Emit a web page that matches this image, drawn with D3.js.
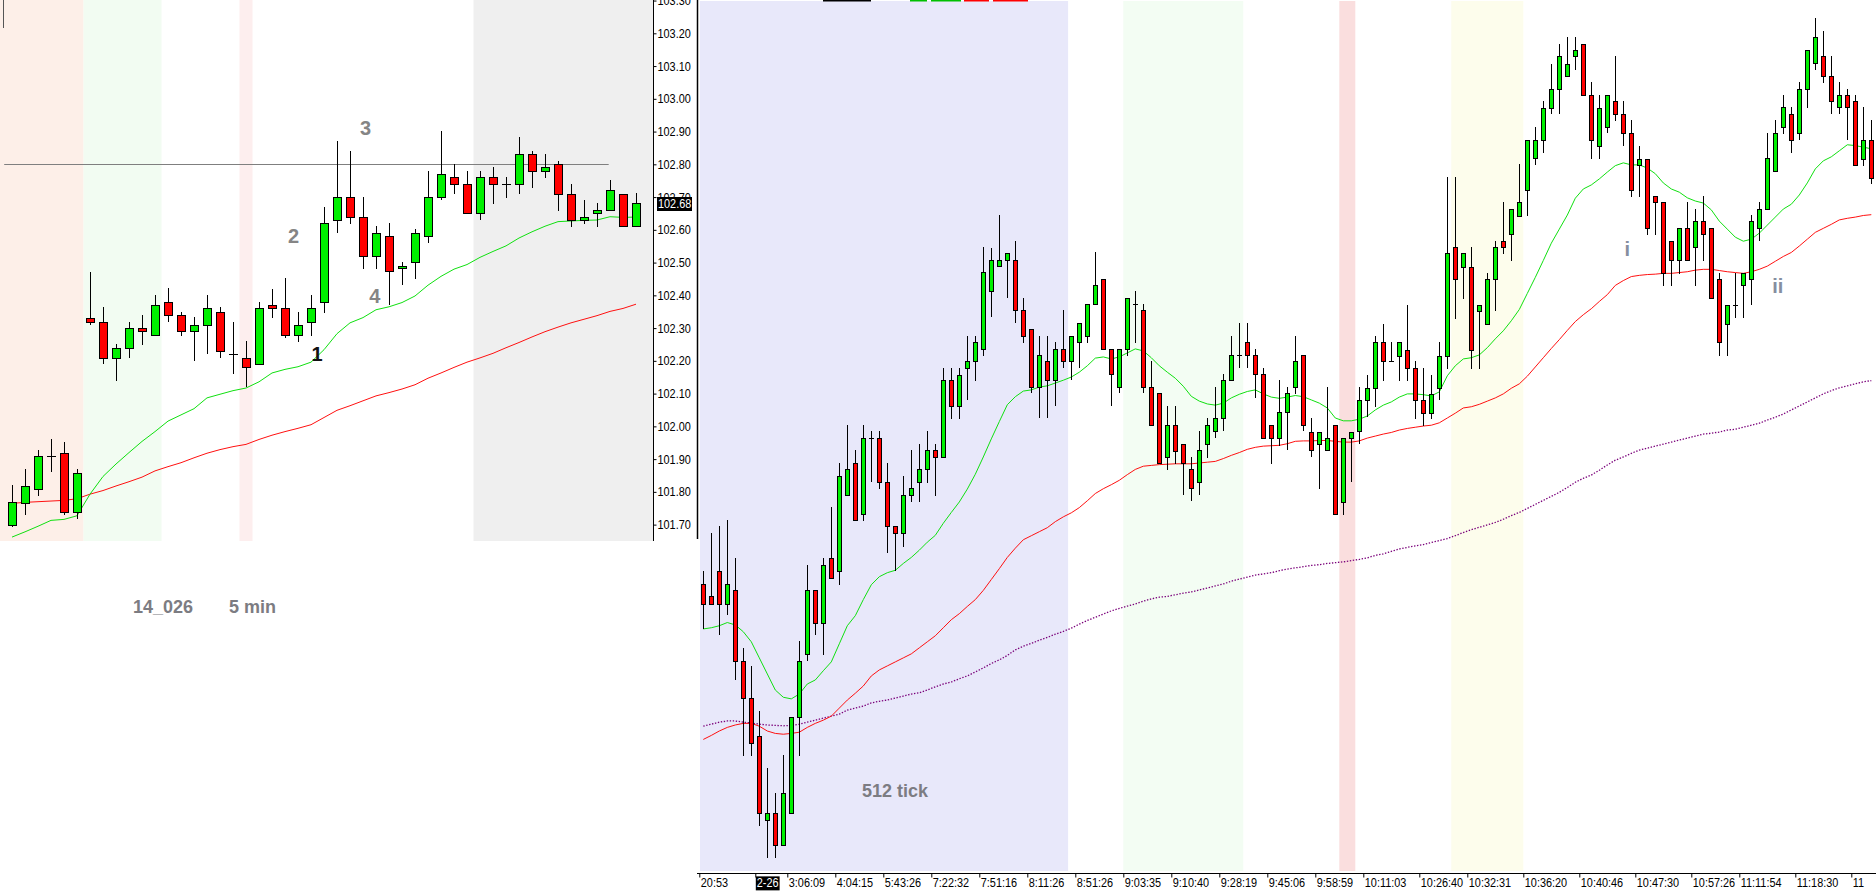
<!DOCTYPE html>
<html>
<head>
<meta charset="utf-8">
<script src="https://cdn.jsdelivr.net/npm/d3@7"></script>
<style>
  html, body { margin: 0; padding: 0; background: #fff; overflow: hidden; }
  svg { display: block; font-family: "Liberation Sans", Arial, sans-serif; }
</style>
</head>
<body>
<div id="container"></div>
<script>
// ---------- left chart: 5 min bars ----------
var leftOpen  = [101.700,101.765,101.809,101.909,101.918,101.738,102.331,102.318,102.209,102.240,
                 102.301,102.278,102.379,102.340,102.291,102.310,102.349,102.221,102.209,102.191,
                 102.371,102.362,102.278,102.318,102.379,102.629,102.701,102.640,102.520,102.581,
                 102.484,102.502,102.581,102.701,102.761,102.741,102.651,102.761,102.741,102.741,
                 102.832,102.780,102.802,102.709,102.629,102.651,102.660,102.709,102.611];
var leftHigh  = [101.820,101.871,101.929,101.960,101.951,101.871,102.472,102.363,102.250,102.318,
                 102.341,102.402,102.422,102.349,102.333,102.402,102.363,102.318,102.262,102.379,
                 102.420,102.452,102.349,102.402,102.671,102.872,102.842,102.701,102.613,102.621,
                 102.502,102.602,102.780,102.902,102.802,102.780,102.780,102.793,102.761,102.883,
                 102.842,102.832,102.811,102.741,102.692,102.683,102.752,102.709,102.712];
var leftLow   = [101.695,101.733,101.789,101.864,101.733,101.720,102.311,102.193,102.142,102.213,
                 102.250,102.278,102.322,102.280,102.202,102.224,102.213,102.163,102.122,102.191,
                 102.333,102.272,102.262,102.280,102.349,102.593,102.621,102.484,102.484,102.374,
                 102.434,102.452,102.562,102.695,102.711,102.651,102.633,102.683,102.701,102.711,
                 102.732,102.761,102.662,102.613,102.621,102.613,102.660,102.611,102.611];
var leftClose = [101.768,101.818,101.909,101.909,101.738,101.857,102.318,102.209,102.240,102.301,
                 102.291,102.371,102.340,102.291,102.310,102.362,102.229,102.221,102.180,102.362,
                 102.362,102.278,102.310,102.362,102.621,102.701,102.640,102.520,102.591,102.473,
                 102.491,102.591,102.701,102.771,102.741,102.651,102.761,102.741,102.741,102.832,
                 102.780,102.793,102.709,102.629,102.640,102.662,102.722,102.611,102.682];
var leftMaFast = [101.662,101.678,101.695,101.713,101.716,101.727,101.793,101.847,101.885,101.920,
                  101.954,101.984,102.016,102.035,102.054,102.087,102.098,102.109,102.117,102.136,
                  102.163,102.174,102.182,102.196,102.234,102.283,102.316,102.332,102.356,102.365,
                  102.378,102.398,102.431,102.458,102.480,102.494,102.516,102.534,102.551,102.575,
                  102.594,102.611,102.625,102.627,102.629,102.630,102.640,102.638,102.639];
var leftMaSlow = [101.765,101.768,101.770,101.772,101.774,101.779,101.793,101.804,101.818,101.831,
                  101.845,101.864,101.877,101.889,101.904,101.918,101.929,101.938,101.945,101.960,
                  101.973,101.984,101.994,102.005,102.027,102.049,102.063,102.078,102.093,102.103,
                  102.114,102.127,102.147,102.163,102.180,102.196,102.209,102.223,102.240,102.256,
                  102.273,102.289,102.303,102.316,102.327,102.338,102.351,102.360,102.373];
var leftPriceTicks = [101.70,101.80,101.90,102.00,102.10,102.20,102.30,102.40,102.50,
                      102.60,102.70,102.80,102.90,103.00,103.10,103.20,103.30];
var leftLastPrice = 102.68;
var leftLevel = 102.80;
var leftLevelFrom = -0.6, leftLevelTo = 45.9;
var leftBandFrom = [-1, 5.5, 17.5, 35.5];
var leftBandTo   = [5.5, 11.5, 18.5, 49.5];
var leftWaveText  = ["1", "2", "3", "4"];
var leftWaveBar   = [23.46, 21.65, 27.2, 27.9];
var leftWavePrice = [102.222, 102.583, 102.911, 102.398];

// ---------- right chart: 512 tick bars ----------
var rightOpen = [101.643,101.613,101.675,101.595,101.628,101.453,101.360,101.265,101.057,101.075,
  100.995,101.075,101.312,101.470,101.628,101.548,101.708,101.675,101.865,101.945,
  101.817,102.007,102.007,101.897,101.788,101.770,101.865,101.897,101.930,101.978,
  101.960,102.152,102.087,102.182,102.198,102.228,102.374,102.436,102.451,102.451,
  102.326,102.279,102.134,102.199,102.151,102.229,102.199,102.246,102.261,102.341,
  102.403,102.229,102.134,102.229,102.341,102.326,102.134,102.119,101.959,102.039,
  101.992,101.929,101.897,101.992,102.024,102.057,102.151,102.214,102.246,102.214,
  102.166,102.039,102.007,102.071,102.134,102.214,102.022,101.992,101.977,102.039,
  101.849,102.007,102.024,102.102,102.132,102.245,102.199,102.212,102.227,102.182,
  102.102,102.070,102.132,102.212,102.482,102.434,102.434,102.324,102.292,102.402,
  102.497,102.514,102.560,102.624,102.704,102.750,102.829,102.877,102.909,102.957,
  102.987,102.862,102.735,102.782,102.845,102.814,102.767,102.687,102.702,102.609,
  102.594,102.497,102.449,102.529,102.482,102.547,102.529,102.402,102.292,102.339,
  102.387,102.402,102.529,102.577,102.672,102.782,102.814,102.767,102.877,102.940,
  102.957,102.909,102.830,102.862,102.845,102.702,102.750];
var rightHigh = [101.675,101.770,101.788,101.803,101.708,101.485,101.440,101.328,101.185,101.123,
  101.218,101.312,101.502,101.690,101.628,101.708,101.835,101.945,102.040,101.978,
  102.040,102.025,102.025,101.945,101.788,101.912,101.978,101.992,102.025,101.992,
  102.182,102.182,102.182,102.262,102.262,102.482,102.481,102.562,102.467,102.497,
  102.356,102.279,102.262,102.262,102.247,102.326,102.261,102.293,102.341,102.469,
  102.403,102.229,102.229,102.356,102.373,102.341,102.199,102.119,102.087,102.087,
  101.992,101.959,102.024,102.057,102.134,102.166,102.261,102.293,102.293,102.229,
  102.182,102.039,102.151,102.134,102.261,102.214,102.057,102.022,102.134,102.039,
  102.007,102.022,102.134,102.165,102.260,102.292,102.245,102.245,102.339,102.199,
  102.182,102.165,102.245,102.657,102.657,102.467,102.482,102.339,102.419,102.497,
  102.594,102.577,102.689,102.750,102.782,102.845,102.939,102.987,103.004,103.004,
  102.987,102.892,102.862,102.862,102.957,102.845,102.799,102.735,102.702,102.609,
  102.594,102.497,102.529,102.594,102.577,102.609,102.529,102.419,102.339,102.419,
  102.419,102.562,102.594,102.767,102.799,102.862,102.830,102.892,102.972,103.052,
  103.020,102.957,102.892,102.877,102.862,102.830,102.799];
var rightLow = [101.535,101.595,101.520,101.568,101.408,101.218,101.218,101.045,100.965,100.965,
  100.995,101.075,101.218,101.455,101.520,101.470,101.660,101.645,101.865,101.803,
  101.803,101.900,101.883,101.723,101.678,101.738,101.850,101.850,101.897,101.865,
  101.960,102.057,102.057,102.105,102.152,102.215,102.311,102.436,102.359,102.296,
  102.247,102.121,102.059,102.059,102.089,102.184,102.154,102.184,102.247,102.341,
  102.229,102.089,102.121,102.214,102.247,102.121,102.039,101.944,101.931,101.944,
  101.867,101.852,101.867,101.961,102.009,102.026,102.151,102.184,102.184,102.109,
  102.007,101.946,101.991,101.979,102.119,102.026,101.962,101.884,101.977,101.817,
  101.819,101.899,101.994,102.062,102.087,102.152,102.199,102.152,102.152,102.057,
  102.039,102.057,102.105,102.182,102.307,102.355,102.182,102.182,102.292,102.325,
  102.467,102.449,102.560,102.562,102.689,102.719,102.817,102.817,102.909,102.925,
  102.862,102.705,102.705,102.769,102.799,102.737,102.609,102.609,102.515,102.515,
  102.387,102.387,102.419,102.449,102.387,102.449,102.355,102.215,102.215,102.309,
  102.309,102.340,102.499,102.577,102.672,102.767,102.719,102.752,102.832,102.925,
  102.892,102.817,102.817,102.752,102.687,102.687,102.642];
var rightClose = [101.595,101.595,101.595,101.643,101.453,101.360,101.248,101.075,101.075,100.995,
  101.123,101.312,101.453,101.628,101.548,101.690,101.660,101.912,101.930,101.803,
  102.007,102.007,101.897,101.788,101.770,101.865,101.883,101.930,101.978,101.960,
  102.152,102.087,102.165,102.198,102.245,102.420,102.451,102.451,102.467,102.326,
  102.262,102.134,102.214,102.151,102.229,102.199,102.261,102.293,102.341,102.389,
  102.229,102.166,102.229,102.356,102.341,102.134,102.039,101.944,102.039,101.974,
  101.944,101.884,101.977,102.039,102.057,102.151,102.214,102.214,102.214,102.166,
  102.007,102.007,102.071,102.119,102.199,102.039,101.977,102.022,102.007,101.817,
  102.007,102.022,102.102,102.132,102.245,102.199,102.199,102.245,102.182,102.102,
  102.070,102.117,102.212,102.467,102.402,102.467,102.227,102.339,102.402,102.482,
  102.482,102.577,102.594,102.750,102.750,102.829,102.877,102.957,102.939,102.972,
  102.862,102.750,102.829,102.862,102.814,102.767,102.624,102.702,102.529,102.594,
  102.419,102.449,102.529,102.449,102.547,102.514,102.355,102.245,102.339,102.339,
  102.419,102.547,102.577,102.704,102.767,102.830,102.750,102.877,102.972,103.004,
  102.909,102.845,102.862,102.830,102.687,102.750,102.655];
var rightMaFast = [101.532,101.535,101.540,101.548,101.542,101.525,101.500,101.460,101.420,101.380,
  101.362,101.358,101.370,101.395,101.405,101.428,101.450,101.495,101.540,101.565,
  101.605,101.642,101.662,101.672,101.678,101.695,101.710,101.728,101.748,101.765,
  101.795,101.822,101.848,101.880,101.917,101.960,102.005,102.048,102.090,102.110,
  102.124,102.127,102.134,102.137,102.144,102.151,102.159,102.171,102.187,102.206,
  102.209,102.204,102.209,102.219,102.229,102.224,102.207,102.187,102.171,102.156,
  102.136,102.111,102.099,102.092,102.089,102.094,102.107,102.116,102.123,102.127,
  102.117,102.109,102.106,102.109,102.113,102.110,102.102,102.094,102.082,102.057,
  102.050,102.050,102.054,102.062,102.077,102.089,102.097,102.109,102.117,102.117,
  102.115,102.112,102.122,102.162,102.187,102.204,102.207,102.214,102.232,102.254,
  102.274,102.299,102.327,102.367,102.407,102.449,102.492,102.527,102.562,102.604,
  102.627,102.637,102.652,102.669,102.685,102.692,102.687,102.687,102.679,102.665,
  102.642,102.627,102.619,102.605,102.597,102.592,102.575,102.547,102.527,102.507,
  102.497,102.502,102.517,102.537,102.557,102.577,102.589,102.612,102.642,102.677,
  102.697,102.707,102.722,102.737,102.735,102.731,102.727];
var rightMaMid = [101.257,101.267,101.278,101.287,101.293,101.297,101.297,101.290,101.278,101.272,
  101.270,101.272,101.275,101.287,101.297,101.305,101.315,101.335,101.355,101.372,
  101.390,101.415,101.430,101.440,101.450,101.460,101.470,101.485,101.500,101.515,
  101.535,101.555,101.570,101.588,101.605,101.628,101.655,101.682,101.710,101.733,
  101.754,101.764,101.774,101.784,101.799,101.811,101.821,101.834,101.851,101.869,
  101.881,101.891,101.902,101.916,101.929,101.937,101.939,101.941,101.942,101.943,
  101.943,101.943,101.945,101.947,101.949,101.956,101.964,101.971,101.979,101.984,
  101.987,101.988,101.989,101.993,101.999,102.000,102.000,102.001,102.001,101.999,
  101.997,101.997,102.000,102.007,102.012,102.017,102.021,102.027,102.031,102.034,
  102.037,102.039,102.045,102.057,102.069,102.082,102.085,102.091,102.099,102.107,
  102.117,102.131,102.142,102.161,102.184,102.207,102.230,102.252,102.275,102.297,
  102.314,102.329,102.347,102.364,102.387,102.399,102.409,102.412,102.414,102.415,
  102.417,102.417,102.419,102.421,102.425,102.427,102.427,102.424,102.421,102.419,
  102.417,102.421,102.427,102.435,102.447,102.459,102.469,102.485,102.502,102.519,
  102.529,102.539,102.550,102.554,102.557,102.561,102.563];
var rightMaSlow = [101.290,101.295,101.300,101.303,101.303,101.300,101.298,101.295,101.293,101.292,
  101.291,101.292,101.295,101.300,101.305,101.310,101.315,101.320,101.330,101.335,
  101.340,101.348,101.352,101.355,101.360,101.365,101.370,101.373,101.380,101.388,
  101.395,101.400,101.408,101.415,101.425,101.435,101.446,101.455,101.466,101.480,
  101.489,101.496,101.504,101.511,101.519,101.526,101.534,101.544,101.553,101.561,
  101.569,101.577,101.583,101.589,101.594,101.601,101.607,101.611,101.613,101.617,
  101.621,101.624,101.629,101.634,101.639,101.644,101.651,101.656,101.661,101.666,
  101.669,101.672,101.677,101.681,101.684,101.687,101.690,101.692,101.695,101.697,
  101.699,101.702,101.705,101.709,101.715,101.719,101.725,101.731,101.735,101.739,
  101.742,101.747,101.752,101.757,101.764,101.772,101.779,101.785,101.791,101.797,
  101.805,101.814,101.822,101.832,101.842,101.852,101.862,101.872,101.884,101.897,
  101.907,101.915,101.927,101.940,101.952,101.960,101.969,101.977,101.982,101.987,
  101.992,101.997,102.002,102.007,102.012,102.017,102.019,102.022,102.027,102.029,
  102.034,102.039,102.044,102.052,102.059,102.067,102.077,102.087,102.097,102.107,
  102.117,102.125,102.132,102.137,102.142,102.147,102.150];
var timeTickBar = [0, 7, 11, 17, 23, 29, 35, 41, 47, 53, 59, 65, 71, 77, 83, 90, 96, 103, 110, 117, 124, 130, 137, 144];
var timeTickLabel = ["20:53", "2-26", "3:06:09", "4:04:15", "5:43:26", "7:22:32", "7:51:16", "8:11:26",
                     "8:51:26", "9:03:35", "9:10:40", "9:28:19", "9:45:06", "9:58:59", "10:11:03", "10:26:40",
                     "10:32:31", "10:36:20", "10:40:46", "10:47:30", "10:57:26", "11:11:54", "11:18:30", "11"];
var rightBandFrom = [-0.45, 52.5, 79.5, 93.5];
var rightBandTo   = [45.6, 67.5, 81.5, 102.5];
var rightWaveText  = ["i", "ii"];
var rightWaveBar   = [115.5, 134.3];
var rightWavePrice = [102.478, 102.387];

// width and height
var width = 1876;
var height = 894;

var upColor = "#00f000";
var downColor = "#ff0000";

var svg = d3.select("#container")
    .append("svg")
    .attr("width", width)
    .attr("height", height);

// left chart scales
var xL = d3.scaleLinear().domain([0, 48]).range([12, 636]);
var yL = d3.scaleLinear().domain([101.65, 103.3017]).range([541, 0]);
var leftRight = 653, leftBottom = 541;

// right chart scales
var xR = d3.scaleLinear().domain([0, 146]).range([703.3, 1871.3]);
var yR = d3.scaleLinear().domain([100.9296, 103.0973]).range([871, 0]);
var rightLeft = 700, rightBottom = 871;

// axis text: tall but narrow, like the platform font
function narrowText(sel) {
    sel.style("font-size", "12.5px")
        .style("font-family", "'Liberation Sans', Arial, sans-serif")
        .each(function () {
            var len = this.getComputedTextLength();
            d3.select(this)
                .attr("textLength", len * 0.87)
                .attr("lengthAdjust", "spacingAndGlyphs");
        });
}

//background bands
var leftBandColors = ["#fdefe8", "#f2fcf2", "#fdeeee", "#efefef"];
svg.append("g").selectAll("rect")
    .data(d3.range(leftBandFrom.length))
    .enter()
    .append("rect")
    .attr("x", i => Math.max(0, xL(leftBandFrom[i])))
    .attr("width", i => Math.min(leftRight, xL(leftBandTo[i])) - Math.max(0, xL(leftBandFrom[i])))
    .attr("y", 0)
    .attr("height", leftBottom)
    .attr("fill", i => leftBandColors[i]);

var rightBandColors = ["#e8e8fa", "#f3fdf3", "#fadede", "#fdfdec"];
svg.append("g").selectAll("rect")
    .data(d3.range(rightBandFrom.length))
    .enter()
    .append("rect")
    .attr("x", i => Math.max(rightLeft, xR(rightBandFrom[i])))
    .attr("width", i => xR(rightBandTo[i]) - Math.max(rightLeft, xR(rightBandFrom[i])))
    .attr("y", 1)
    .attr("height", rightBottom - 1)
    .attr("fill", i => rightBandColors[i]);

// horizontal level line on the 5 min chart
svg.append("line")
    .attr("x1", xL(leftLevelFrom)).attr("x2", xL(leftLevelTo))
    .attr("y1", Math.round(yL(leftLevel)) + 0.5).attr("y2", Math.round(yL(leftLevel)) + 0.5)
    .attr("stroke", "#7f7f7f");

// moving averages
function drawLine(values, x, y, color, dash) {
    var line = d3.line()
        .x((d, i) => x(i))
        .y(d => y(d));
    svg.append("path")
        .datum(values)
        .attr("d", line)
        .attr("fill", "none")
        .attr("stroke", color)
        .attr("stroke-width", dash ? 1.3 : 1)
        .attr("stroke-dasharray", dash || null);
}

drawLine(leftMaSlow, xL, yL, "#ff1010");
drawLine(leftMaFast, xL, yL, "#10e010");
drawLine(rightMaSlow, xR, yR, "#7a007a", "1.4,1.6");
drawLine(rightMaMid, xR, yR, "#ff1010");
drawLine(rightMaFast, xR, yR, "#10e010");

// candles
function drawCandles(o, h, l, c, x, y, half) {
    var g = svg.append("g").attr("shape-rendering", "crispEdges");
    var idx = d3.range(o.length);
    g.selectAll("line.wick")
        .data(idx)
        .enter()
        .append("line")
        .attr("class", "wick")
        .attr("x1", i => Math.round(x(i)) + 0.5)
        .attr("x2", i => Math.round(x(i)) + 0.5)
        .attr("y1", i => Math.round(y(h[i])))
        .attr("y2", i => Math.round(y(l[i])) + 1)
        .attr("stroke", "#000");
    g.selectAll("rect.body")
        .data(idx.filter(i => o[i] !== c[i]))
        .enter()
        .append("rect")
        .attr("class", "body")
        .attr("x", i => Math.round(x(i)) - half + 0.5)
        .attr("width", half * 2)
        .attr("y", i => Math.round(y(Math.max(o[i], c[i]))) + 0.5)
        .attr("height", i => Math.max(1, Math.round(y(Math.min(o[i], c[i]))) - Math.round(y(Math.max(o[i], c[i])))))
        .attr("fill", i => c[i] > o[i] ? upColor : downColor)
        .attr("stroke", "#000");
    g.selectAll("line.doji")
        .data(idx.filter(i => o[i] === c[i]))
        .enter()
        .append("line")
        .attr("class", "doji")
        .attr("x1", i => Math.round(x(i)) - half)
        .attr("x2", i => Math.round(x(i)) + half + 1)
        .attr("y1", i => Math.round(y(o[i])) + 0.5)
        .attr("y2", i => Math.round(y(o[i])) + 0.5)
        .attr("stroke", "#000");
}

drawCandles(leftOpen, leftHigh, leftLow, leftClose, xL, yL, 4);
drawCandles(rightOpen, rightHigh, rightLow, rightClose, xR, yR, 2);

// price axis of the 5 min chart
var axisL = d3.axisRight(yL)
    .tickValues(leftPriceTicks)
    .tickFormat(d3.format(".2f"))
    .tickSize(3)
    .tickSizeOuter(0);
var gAxisL = svg.append("g")
    .attr("transform", "translate(" + (leftRight + 0.5) + ",0)")
    .call(axisL);
gAxisL.select(".domain").attr("stroke", "#000").attr("d", "M0,0V" + leftBottom);
gAxisL.selectAll("text")
    .attr("x", 4)
    .attr("fill", "#000")
    .call(narrowText);

// last price marker
var lastY = yL(leftLastPrice);
svg.append("rect")
    .attr("x", leftRight + 4).attr("y", Math.round(lastY) - 7)
    .attr("width", 35).attr("height", 14)
    .attr("fill", "#000");
svg.append("text")
    .attr("x", leftRight + 5).attr("y", lastY)
    .attr("dy", "0.35em")
    .attr("fill", "#fff")
    .text(d3.format(".2f")(leftLastPrice))
    .call(narrowText);

// border between the two charts
svg.append("line")
    .attr("x1", 697.5).attr("x2", 697.5)
    .attr("y1", 0).attr("y2", leftBottom - 2)
    .attr("stroke", "#000").attr("stroke-width", 1.5);
svg.append("line")
    .attr("x1", 3.5).attr("x2", 3.5)
    .attr("y1", 0).attr("y2", 28)
    .attr("stroke", "#555");

// time axis of the tick chart
var axisR = d3.axisBottom(xR)
    .tickValues(timeTickBar.map(k => k - 0.5))
    .tickFormat((d, i) => timeTickLabel[i])
    .tickSize(4)
    .tickSizeOuter(0);
var gAxisR = svg.append("g")
    .attr("transform", "translate(0," + (rightBottom + 2.5) + ")")
    .call(axisR);
gAxisR.select(".domain").attr("stroke", "#000").attr("d", "M697,0H" + width);
gAxisR.selectAll("text")
    .attr("text-anchor", "start")
    .attr("x", 1)
    .attr("y", 5)
    .attr("fill", "#000")
    .call(narrowText);
gAxisR.selectAll(".tick").filter((d, i) => timeTickLabel[i] === "2-26").each(function () {
    var t = d3.select(this).select("text");
    var b = t.node().getBBox();
    d3.select(this).insert("rect", "text")
        .attr("x", b.x - 1).attr("y", b.y)
        .attr("width", b.width + 2).attr("height", b.height)
        .attr("fill", "#000");
    t.attr("fill", "#fff");
});

// wave labels
svg.append("g").selectAll("text")
    .data(d3.range(leftWaveText.length))
    .enter()
    .append("text")
    .attr("x", i => xL(leftWaveBar[i]))
    .attr("y", i => yL(leftWavePrice[i]))
    .attr("dy", "0.36em")
    .attr("text-anchor", "middle")
    .attr("fill", i => leftWaveText[i] === "1" ? "#111" : "#858585")
    .style("font-size", "20px")
    .style("font-weight", "bold")
    .text(i => leftWaveText[i]);

svg.append("g").selectAll("text")
    .data(d3.range(rightWaveText.length))
    .enter()
    .append("text")
    .attr("x", i => xR(rightWaveBar[i]))
    .attr("y", i => yR(rightWavePrice[i]))
    .attr("dy", "0.36em")
    .attr("text-anchor", "middle")
    .attr("fill", "#868ea0")
    .style("font-size", "20px")
    .style("font-weight", "bold")
    .text(i => rightWaveText[i]);

// chart notes
svg.append("text").attr("x", 133).attr("y", 613)
    .attr("fill", "#7c7c82").style("font-size", "18px").style("font-weight", "bold")
    .text("14_026");
svg.append("text").attr("x", 229).attr("y", 613)
    .attr("fill", "#7c7c82").style("font-size", "18px").style("font-weight", "bold")
    .text("5 min");
svg.append("text").attr("x", 895).attr("y", 797)
    .attr("text-anchor", "middle")
    .attr("fill", "#7c7c82").style("font-size", "18px").style("font-weight", "bold")
    .text("512 tick");

// small legend stubs cut off at the top edge
var stubX = [823, 910, 931, 964, 993];
var stubW = [48, 17, 30, 25, 35];
var stubColor = ["#000", "#00c000", "#00c000", "#ff0000", "#ff0000"];
svg.append("g").selectAll("rect")
    .data(d3.range(stubX.length))
    .enter()
    .append("rect")
    .attr("x", i => stubX[i]).attr("y", 0)
    .attr("width", i => stubW[i]).attr("height", 1.5)
    .attr("fill", i => stubColor[i]);
</script>
</body>
</html>
